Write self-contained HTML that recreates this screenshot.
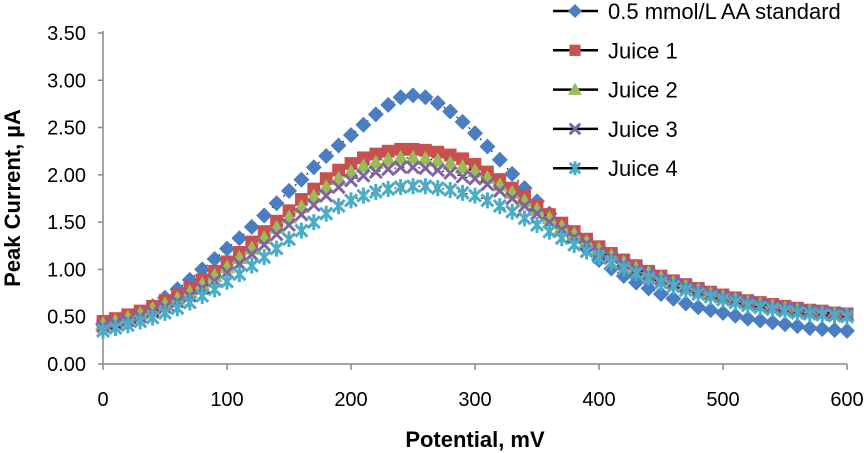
<!DOCTYPE html>
<html><head><meta charset="utf-8"><style>
body{margin:0;background:#fff}
svg{display:block;font-family:"Liberation Sans",Arial,sans-serif}
</style></head><body>
<svg id="chart" width="864" height="453">
<g id="axes"></g><g id="series"></g><g id="legend"></g>
<text transform="translate(20,198) rotate(-90)" text-anchor="middle" font-size="22" font-weight="bold">Peak Current, µA</text>
<text x="475" y="447" text-anchor="middle" font-size="22" font-weight="bold">Potential, mV</text>
</svg>
<script>
const xStart=0, xStep=10;
const xTicks=[0,100,200,300,400,500,600];
const yTicks=[0,0.5,1,1.5,2,2.5,3,3.5];
const seriesNames=["0.5 mmol/L AA standard","Juice 1","Juice 2","Juice 3","Juice 4"];
const stdValues=[0.42,0.45,0.49,0.54,0.61,0.70,0.79,0.89,1.0,1.11,1.22,1.33,1.45,1.57,1.70,1.83,1.95,2.08,2.2,2.31,2.42,2.53,2.64,2.74,2.82,2.84,2.82,2.76,2.67,2.56,2.44,2.30,2.16,2.01,1.86,1.72,1.59,1.46,1.34,1.22,1.10,1.01,0.93,0.86,0.80,0.74,0.69,0.64,0.60,0.57,0.54,0.51,0.48,0.46,0.44,0.42,0.4,0.38,0.37,0.36,0.35];
const juice1Values=[0.45,0.48,0.52,0.56,0.61,0.67,0.73,0.8,0.89,0.98,1.08,1.18,1.29,1.40,1.51,1.62,1.74,1.85,1.96,2.05,2.12,2.18,2.22,2.25,2.27,2.27,2.26,2.24,2.21,2.17,2.11,2.03,1.95,1.86,1.77,1.67,1.58,1.49,1.4,1.32,1.24,1.17,1.1,1.04,0.98,0.93,0.88,0.84,0.8,0.76,0.73,0.7,0.67,0.65,0.63,0.61,0.59,0.57,0.56,0.54,0.53];
const juice2Values=[0.42,0.45,0.49,0.53,0.58,0.63,0.69,0.76,0.84,0.93,1.02,1.12,1.22,1.33,1.44,1.55,1.66,1.77,1.87,1.96,2.03,2.09,2.13,2.16,2.18,2.18,2.17,2.15,2.12,2.08,2.04,1.97,1.89,1.81,1.72,1.63,1.54,1.45,1.37,1.29,1.21,1.14,1.07,1.01,0.96,0.91,0.86,0.82,0.78,0.74,0.71,0.68,0.65,0.63,0.61,0.59,0.57,0.56,0.54,0.53,0.52];
const juice3Values=[0.4,0.43,0.46,0.5,0.55,0.6,0.66,0.72,0.8,0.88,0.97,1.06,1.16,1.26,1.37,1.47,1.58,1.68,1.78,1.87,1.94,1.99,2.03,2.06,2.08,2.08,2.07,2.05,2.02,1.98,1.96,1.9,1.83,1.75,1.67,1.59,1.5,1.42,1.34,1.27,1.19,1.13,1.06,1.0,0.95,0.9,0.86,0.82,0.78,0.74,0.71,0.68,0.66,0.63,0.61,0.59,0.58,0.56,0.55,0.54,0.53];
const juice4Values=[0.35,0.38,0.41,0.45,0.49,0.54,0.59,0.65,0.72,0.79,0.87,0.95,1.04,1.13,1.22,1.32,1.41,1.50,1.59,1.67,1.73,1.78,1.82,1.85,1.87,1.88,1.88,1.86,1.84,1.81,1.78,1.73,1.67,1.61,1.54,1.47,1.4,1.33,1.26,1.19,1.13,1.07,1.01,0.96,0.91,0.86,0.82,0.78,0.74,0.71,0.68,0.65,0.62,0.6,0.58,0.56,0.54,0.53,0.52,0.51,0.5];

const NS="http://www.w3.org/2000/svg";
const X0=103,X1=847,Y0=364,Y1=33;
const xs=v=>X0+(v-0)/(600-0)*(X1-X0);
const ys=v=>Y0-(v-0)/(3.5-0)*(Y0-Y1);
function mk(t,a,p){const e=document.createElementNS(NS,t);for(const k in a)e.setAttribute(k,a[k]);p.appendChild(e);return e;}
const axes=document.getElementById('axes');
const ya=mk('line',{x1:X0,y1:Y1-2,x2:X0,y2:Y0,stroke:'#888','stroke-width':1.5},axes);


const xa=mk('line',{x1:X0,y1:Y0,x2:X1,y2:Y0,stroke:'#888','stroke-width':1.5},axes);


yTicks.forEach(v=>{
 mk('line',{x1:X0-5,y1:ys(v),x2:X0,y2:ys(v),stroke:'#888','stroke-width':1.5},axes);
 const t=mk('text',{x:86,y:ys(v)+7,'text-anchor':'end','font-size':20},axes);
 t.textContent=v.toFixed(2);
 
 
});
xTicks.forEach(v=>{
 mk('line',{x1:xs(v),y1:Y0,x2:xs(v),y2:Y0+6,stroke:'#888','stroke-width':1.5},axes);
 const t=mk('text',{x:xs(v),y:406,'text-anchor':'middle','font-size':20},axes);
 t.textContent=String(v);
 
 
});
const colors=['#4a7dc1','#c8504d','#9bbb59','#8064a2','#4bacc6'];
const shapes=['diamond','square','triangle','x','star'];
const allVals=[stdValues,juice1Values,juice2Values,juice3Values,juice4Values];
function marker(g,shape,x,y,c,s){
 if(shape==='diamond')return mk('polygon',{points:`${x},${y-s} ${x+s},${y} ${x},${y+s} ${x-s},${y}`,fill:c},g);
 if(shape==='square')return mk('rect',{x:x-s*0.8,y:y-s*0.8,width:s*1.6,height:s*1.6,fill:c},g);
 if(shape==='triangle')return mk('polygon',{points:`${x},${y-s} ${x+s},${y+s*0.75} ${x-s},${y+s*0.75}`,fill:c},g);
 const d=s*0.75;
 let p=`M${x-d},${y-d}L${x+d},${y+d}M${x+d},${y-d}L${x-d},${y+d}`;
 if(shape==='star')p+=`M${x},${y-s}L${x},${y+s}`;
 return mk('path',{d:p,stroke:c,'stroke-width':3,fill:'none'},g);
}
const sg=document.getElementById('series');
allVals.forEach((vals,i)=>{
 const g=mk('g',{},sg);
 
 
 const pts=vals.map((v,j)=>[xs(xStart+j*xStep),ys(v)]);
 mk('polyline',{points:pts.map(p=>p.join(',')).join(' '),fill:'none',stroke:'#000','stroke-width':1,'stroke-dasharray':'2,6'},g);
 pts.forEach(p=>{
  const m=marker(g,shapes[i],p[0],p[1],colors[i],8);
  
  
 });
});
const lg=document.getElementById('legend');
seriesNames.forEach((n,i)=>{
 const y=11+i*39.3;
 const g=mk('g',{},lg);
 
 
 mk('line',{x1:553,y1:y,x2:598,y2:y,stroke:'#000','stroke-width':2.5},g);
 marker(g,shapes[i],575,y,colors[i],7);
 const t=mk('text',{x:608,y:y+8,'font-size':22},g);
 t.textContent=n;
});
</script>
</body></html>
